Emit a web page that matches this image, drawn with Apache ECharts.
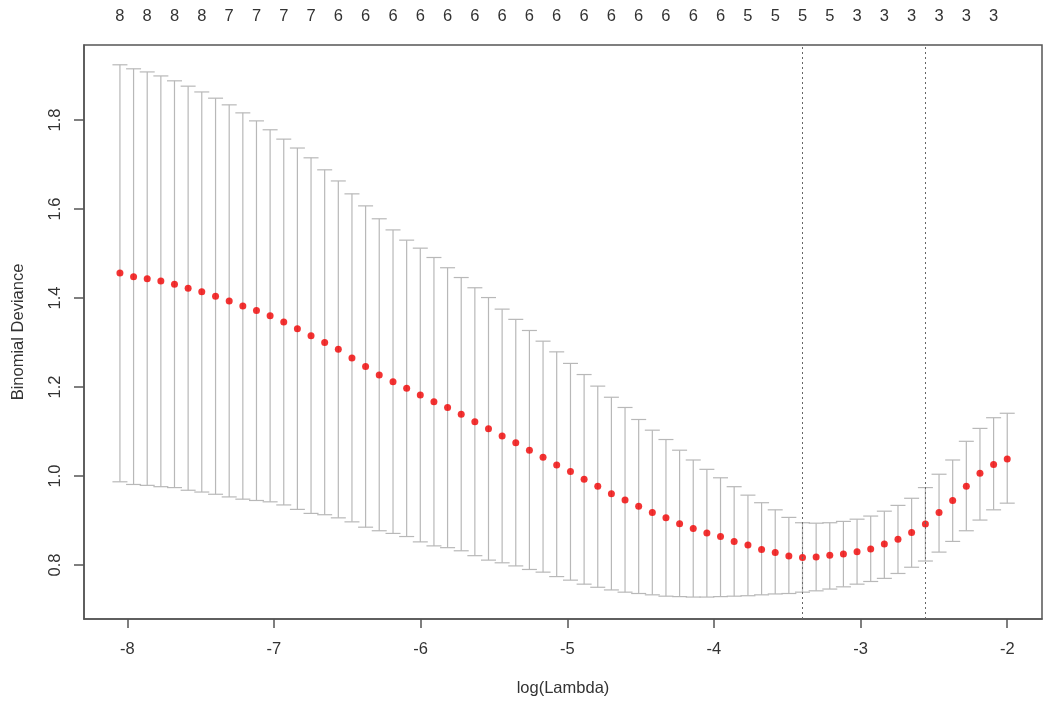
<!DOCTYPE html>
<html>
<head>
<meta charset="utf-8">
<script src="https://cdn.jsdelivr.net/npm/echarts@6/dist/echarts.min.js"></script>
<style>html,body{margin:0;padding:0;background:#fff}#c{width:1050px;height:706px}</style>
</head>
<body>
<div id="c"></div>
<script>
// log(Lambda) positions of the 66 lambdas
const logLambda = [-8.050,-7.957,-7.864,-7.771,-7.678,-7.585,-7.492,-7.398,-7.305,-7.212,
  -7.119,-7.026,-6.933,-6.840,-6.747,-6.654,-6.561,-6.468,-6.375,-6.282,
  -6.188,-6.095,-6.002,-5.909,-5.816,-5.723,-5.630,-5.537,-5.444,-5.351,
  -5.258,-5.165,-5.072,-4.978,-4.885,-4.792,-4.699,-4.606,-4.513,-4.420,
  -4.327,-4.234,-4.141,-4.048,-3.955,-3.862,-3.768,-3.675,-3.582,-3.489,
  -3.396,-3.303,-3.210,-3.117,-3.024,-2.931,-2.838,-2.745,-2.652,-2.558,
  -2.465,-2.372,-2.279,-2.186,-2.093,-2.000];
// mean cross-validated binomial deviance
const cvMean = [1.456,1.448,1.443,1.438,1.431,1.422,1.414,1.404,1.393,1.382,
  1.372,1.360,1.346,1.331,1.315,1.300,1.285,1.265,1.246,1.227,
  1.212,1.197,1.182,1.167,1.154,1.139,1.122,1.106,1.090,1.075,
  1.058,1.042,1.025,1.010,0.993,0.977,0.960,0.946,0.932,0.918,
  0.906,0.893,0.882,0.872,0.864,0.853,0.845,0.835,0.828,0.820,
  0.817,0.818,0.822,0.825,0.830,0.836,0.847,0.858,0.873,0.892,
  0.918,0.945,0.977,1.006,1.026,1.038];
const cvUpper = [1.924,1.915,1.908,1.899,1.888,1.876,1.863,1.849,1.834,1.816,
  1.798,1.778,1.757,1.737,1.715,1.688,1.663,1.634,1.607,1.578,
  1.553,1.530,1.512,1.491,1.468,1.446,1.423,1.401,1.375,1.352,
  1.327,1.303,1.279,1.253,1.228,1.202,1.177,1.154,1.127,1.103,
  1.082,1.058,1.036,1.015,0.996,0.976,0.957,0.940,0.924,0.907,
  0.895,0.894,0.895,0.898,0.903,0.910,0.921,0.934,0.950,0.974,
  1.004,1.036,1.078,1.107,1.131,1.141];
const cvLower = [0.987,0.981,0.979,0.976,0.974,0.968,0.964,0.959,0.953,0.948,
  0.945,0.942,0.935,0.925,0.916,0.913,0.906,0.897,0.885,0.877,
  0.871,0.864,0.852,0.843,0.839,0.832,0.821,0.811,0.805,0.798,
  0.790,0.784,0.774,0.766,0.757,0.750,0.744,0.739,0.736,0.733,
  0.730,0.729,0.728,0.728,0.729,0.730,0.731,0.733,0.735,0.736,
  0.739,0.742,0.746,0.751,0.757,0.763,0.770,0.781,0.795,0.809,
  0.829,0.853,0.877,0.901,0.924,0.939];
// number of nonzero coefficients shown on top (every other lambda)
const nzLabels = [8,8,8,8,7,7,7,7,6,6,6,6,6,6,6,6,6,6,6,6,6,6,6,5,5,5,5,3,3,3,3,3,3];
const xTicks = [-8,-7,-6,-5,-4,-3,-2];
const yTicks = [0.8,1.0,1.2,1.4,1.6,1.8];
const lambdaMin = -3.396;
const lambda1se = -2.558;

const topPos = nzLabels.map((_, k) => logLambda[2 * k]);
const topMap = {};
topPos.forEach((v, k) => { topMap[v.toFixed(3)] = String(nzLabels[k]); });

const FONT = 'Liberation Sans, Arial, sans-serif';
const FS = 16.5;
const TXT = '#333';
const BAR = '#b8b8b8';

const chart = echarts.init(document.getElementById('c'), null, {renderer: 'canvas'});
chart.setOption({
  animation: false,
  backgroundColor: '#fff',
  grid: {left: 84, right: 8, top: 45, bottom: 87, show: true, borderColor: '#555', borderWidth: 1.5, backgroundColor: 'transparent'},
  xAxis: [{
    type: 'value', min: -8.295, max: -1.763,
    name: 'log(Lambda)', nameLocation: 'middle', nameGap: 61,
    nameTextStyle: {fontFamily: FONT, fontSize: FS, color: TXT},
    axisLine: {show: true, onZero: false, lineStyle: {color: '#555', width: 1.5}},
    axisTick: {show: true, length: 9, customValues: xTicks, lineStyle: {color: '#555', width: 1.5}},
    axisLabel: {customValues: xTicks, margin: 22, fontFamily: FONT, fontSize: FS, color: TXT, formatter: v => String(v)},
    splitLine: {show: false}
  }, {
    type: 'value', min: -8.295, max: -1.763, position: 'top',
    axisLine: {show: false}, axisTick: {show: false}, splitLine: {show: false},
    axisLabel: {customValues: topPos, margin: 20, fontFamily: FONT, fontSize: FS, color: TXT,
      formatter: v => topMap[Number(v).toFixed(3)] || ''}
  }],
  yAxis: {
    type: 'value', min: 0.6787, max: 1.9685,
    name: 'Binomial Deviance', nameLocation: 'middle', nameGap: 57, nameRotate: 90,
    nameTextStyle: {fontFamily: FONT, fontSize: FS, color: TXT},
    axisLine: {show: true, onZero: false, lineStyle: {color: '#555', width: 1.5}},
    axisTick: {show: true, length: 10, customValues: yTicks, lineStyle: {color: '#555', width: 1.5}},
    axisLabel: {customValues: yTicks, rotate: 90, margin: 20, fontFamily: FONT, fontSize: FS, color: TXT,
      formatter: v => Number(v).toFixed(1)},
    splitLine: {show: false}
  },
  series: [{
    type: 'custom',
    xAxisIndex: 0,
    data: logLambda.map((x, i) => [x, cvLower[i], cvUpper[i]]),
    renderItem: function (params, api) {
      const x = api.value(0);
      const lo = api.coord([x, api.value(1)]);
      const hi = api.coord([x, api.value(2)]);
      const w = 7.5;
      const st = {stroke: BAR, lineWidth: 1.2};
      return {type: 'group', children: [
        {type: 'line', shape: {x1: hi[0], y1: hi[1], x2: lo[0], y2: lo[1]}, style: st},
        {type: 'line', shape: {x1: hi[0] - w, y1: hi[1], x2: hi[0] + w, y2: hi[1]}, style: st},
        {type: 'line', shape: {x1: lo[0] - w, y1: lo[1], x2: lo[0] + w, y2: lo[1]}, style: st}
      ]};
    },
    z: 2
  }, {
    type: 'scatter',
    xAxisIndex: 0,
    data: logLambda.map((x, i) => [x, cvMean[i]]),
    symbol: 'circle', symbolSize: 7,
    itemStyle: {color: '#f00000'},
    z: 4,
    markLine: {
      silent: true, symbol: 'none', label: {show: false},
      lineStyle: {color: '#666', type: [2, 3], width: 1},
      data: [{xAxis: lambdaMin}, {xAxis: lambda1se}]
    }
  }]
});
</script>
</body>
</html>
